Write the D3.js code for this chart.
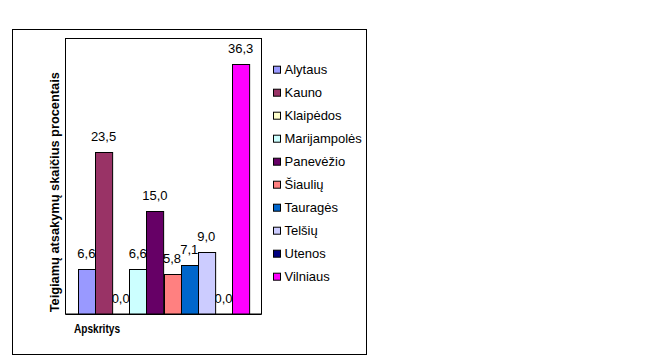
<!DOCTYPE html>
<html>
<head>
<meta charset="utf-8">
<script src="https://cdn.jsdelivr.net/npm/d3@7"></script>
<style>
  html, body { margin: 0; padding: 0; background: #fff; }
  svg { display: block; font-family: Arial, "Liberation Sans", sans-serif; }
</style>
</head>
<body>
<svg id="chart" width="660" height="360"></svg>
<script>
const categories = ["Alytaus", "Kauno", "Klaipėdos", "Marijampolės", "Panevėžio", "Šiaulių", "Tauragės", "Telšių", "Utenos", "Vilniaus"];
const values = [6.6, 23.5, 0.0, 6.6, 15.0, 5.8, 7.1, 9.0, 0.0, 36.3];
const colors = ["#9999FF", "#993366", "#FFFFCC", "#CCFFFF", "#660066", "#FF8080", "#0066CC", "#CCCCFF", "#000080", "#FF00FF"];
const yDomain = [0, 40];
const yTitle = "Teigiamų atsakymų skaičius procentais";
const xTitle = "Apskritys";

const svg = d3.select("#chart");

// outer frame
svg.append("rect")
  .attr("x", 12.5).attr("y", 29.5)
  .attr("width", 354).attr("height", 325)
  .attr("fill", "#fff").attr("stroke", "#000").attr("stroke-width", 1);

const plot = { left: 65.5, right: 261.5, top: 38.5, bottom: 314 };

const x = d3.scaleBand()
  .domain(categories)
  .range([plot.left, plot.right])
  .paddingInner(0)
  .paddingOuter(0.72);

const y = d3.scaleLinear().domain(yDomain).range([plot.bottom, plot.top]);

// plot area
svg.append("rect")
  .attr("x", plot.left).attr("y", plot.top)
  .attr("width", plot.right - plot.left).attr("height", plot.bottom - plot.top)
  .attr("fill", "#fff").attr("stroke", "#000").attr("stroke-width", 1);

const fmt = v => d3.format(".1f")(v).replace(".", ",");

// value labels (drawn before bars, so bars overlap them as in the reference)
svg.append("g").selectAll("text")
  .data(values)
  .join("text")
  .attr("x", (d, i) => x(categories[i]) + x.bandwidth() / 2)
  .attr("y", d => y(d) - 11)
  .attr("text-anchor", "middle")
  .attr("font-size", 13)
  .attr("fill", "#000")
  .text(d => fmt(d));

// bars
svg.append("g").selectAll("rect")
  .data(values)
  .join("rect")
  .attr("x", (d, i) => Math.round(x(categories[i])) + 0.5)
  .attr("y", d => Math.round(y(d)) + 0.5)
  .attr("width", x.bandwidth())
  .attr("height", d => Math.max(0, y(0) - Math.round(y(d)) - 0.5))
  .attr("fill", (d, i) => colors[i])
  .attr("stroke", d => d > 0 ? "#000" : "none")
  .attr("stroke-width", 1);

// redraw bottom plot border above bars
svg.append("line")
  .attr("x1", plot.left).attr("x2", plot.right)
  .attr("y1", plot.bottom + 0.5).attr("y2", plot.bottom + 0.5)
  .attr("stroke", "#000");

// y title
svg.append("text")
  .attr("transform", `translate(59,${(plot.top + plot.bottom) / 2 + 16}) rotate(-90)`)
  .attr("text-anchor", "middle")
  .attr("font-size", 12.8)
  .attr("font-weight", "bold")
  .text(yTitle);

// x title
svg.append("text")
  .attr("x", 74).attr("y", 333)
  .attr("font-size", 12)
  .attr("font-weight", "bold")
  .attr("textLength", 46)
  .attr("lengthAdjust", "spacingAndGlyphs")
  .text(xTitle);

// legend
const legend = svg.append("g");
const rows = legend.selectAll("g")
  .data(categories)
  .join("g")
  .attr("transform", (d, i) => `translate(0,${69.7 + i * 23})`);
rows.append("rect")
  .attr("x", 273.5).attr("y", -3.5)
  .attr("width", 7).attr("height", 7)
  .attr("fill", (d, i) => colors[i])
  .attr("stroke", "#000");
rows.append("text")
  .attr("x", 284.5).attr("y", 4.5)
  .attr("font-size", 13)
  .text(d => d);
</script>
</body>
</html>
